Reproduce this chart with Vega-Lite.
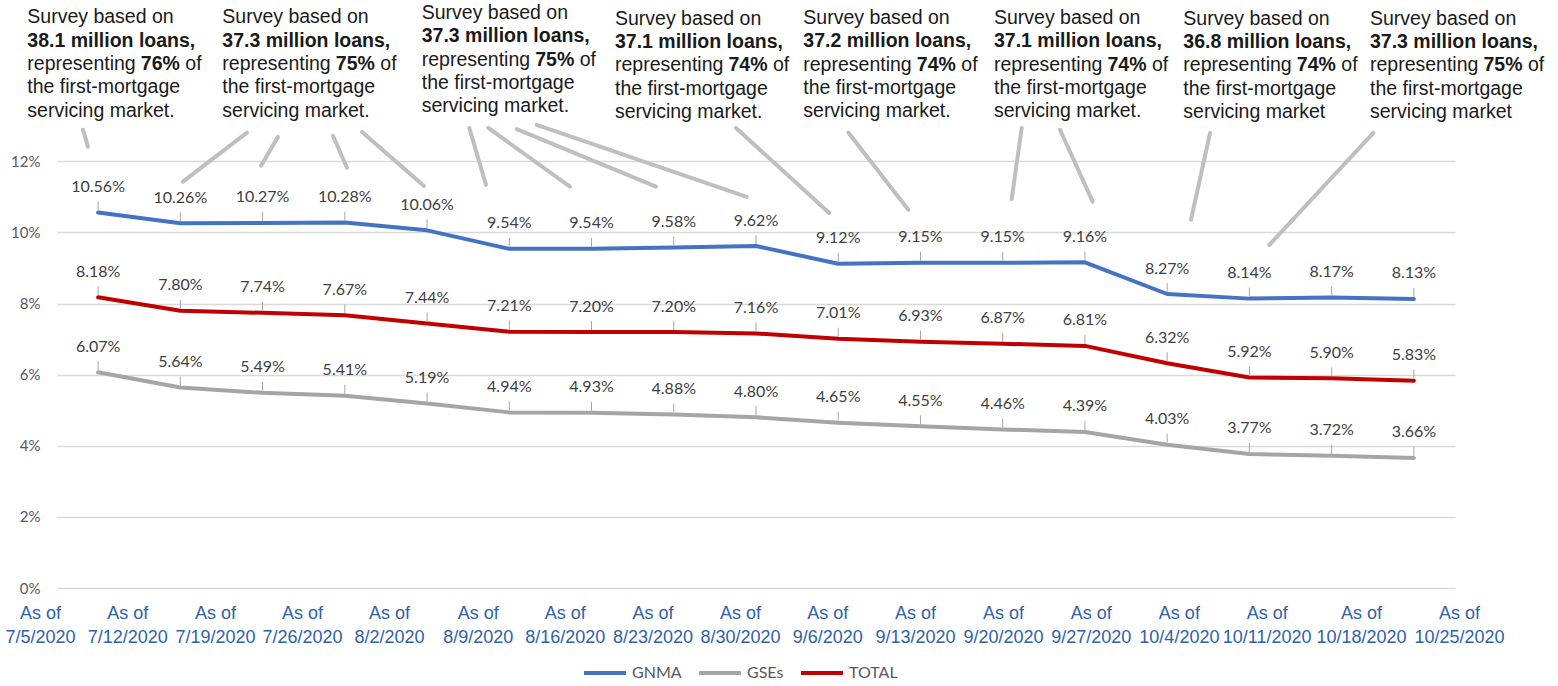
{
  "$schema": "https://vega.github.io/schema/vega-lite/v6.json",
  "width": 1398,
  "height": 588,
  "autosize": {"type": "none"},
  "padding": {"left": 57, "top": 0, "right": 103, "bottom": 98},
  "config": {"view": {"stroke": null}, "font": "Lato"},
  "datasets": {
    "rates": [
      {"k": 0, "date": "7/5/2020", "series": "GNMA", "v": 0.1056},
      {"k": 1, "date": "7/12/2020", "series": "GNMA", "v": 0.1026},
      {"k": 2, "date": "7/19/2020", "series": "GNMA", "v": 0.1027},
      {"k": 3, "date": "7/26/2020", "series": "GNMA", "v": 0.1028},
      {"k": 4, "date": "8/2/2020", "series": "GNMA", "v": 0.1006},
      {"k": 5, "date": "8/9/2020", "series": "GNMA", "v": 0.0954},
      {"k": 6, "date": "8/16/2020", "series": "GNMA", "v": 0.0954},
      {"k": 7, "date": "8/23/2020", "series": "GNMA", "v": 0.0958},
      {"k": 8, "date": "8/30/2020", "series": "GNMA", "v": 0.0962},
      {"k": 9, "date": "9/6/2020", "series": "GNMA", "v": 0.0912},
      {"k": 10, "date": "9/13/2020", "series": "GNMA", "v": 0.0915},
      {"k": 11, "date": "9/20/2020", "series": "GNMA", "v": 0.0915},
      {"k": 12, "date": "9/27/2020", "series": "GNMA", "v": 0.0916},
      {"k": 13, "date": "10/4/2020", "series": "GNMA", "v": 0.0827},
      {"k": 14, "date": "10/11/2020", "series": "GNMA", "v": 0.0814},
      {"k": 15, "date": "10/18/2020", "series": "GNMA", "v": 0.0817},
      {"k": 16, "date": "10/25/2020", "series": "GNMA", "v": 0.0813},
      {"k": 0, "date": "7/5/2020", "series": "GSEs", "v": 0.0607},
      {"k": 1, "date": "7/12/2020", "series": "GSEs", "v": 0.0564},
      {"k": 2, "date": "7/19/2020", "series": "GSEs", "v": 0.0549},
      {"k": 3, "date": "7/26/2020", "series": "GSEs", "v": 0.0541},
      {"k": 4, "date": "8/2/2020", "series": "GSEs", "v": 0.0519},
      {"k": 5, "date": "8/9/2020", "series": "GSEs", "v": 0.0494},
      {"k": 6, "date": "8/16/2020", "series": "GSEs", "v": 0.0493},
      {"k": 7, "date": "8/23/2020", "series": "GSEs", "v": 0.0488},
      {"k": 8, "date": "8/30/2020", "series": "GSEs", "v": 0.0480},
      {"k": 9, "date": "9/6/2020", "series": "GSEs", "v": 0.0465},
      {"k": 10, "date": "9/13/2020", "series": "GSEs", "v": 0.0455},
      {"k": 11, "date": "9/20/2020", "series": "GSEs", "v": 0.0446},
      {"k": 12, "date": "9/27/2020", "series": "GSEs", "v": 0.0439},
      {"k": 13, "date": "10/4/2020", "series": "GSEs", "v": 0.0403},
      {"k": 14, "date": "10/11/2020", "series": "GSEs", "v": 0.0377},
      {"k": 15, "date": "10/18/2020", "series": "GSEs", "v": 0.0372},
      {"k": 16, "date": "10/25/2020", "series": "GSEs", "v": 0.0366},
      {"k": 0, "date": "7/5/2020", "series": "TOTAL", "v": 0.0818},
      {"k": 1, "date": "7/12/2020", "series": "TOTAL", "v": 0.0780},
      {"k": 2, "date": "7/19/2020", "series": "TOTAL", "v": 0.0774},
      {"k": 3, "date": "7/26/2020", "series": "TOTAL", "v": 0.0767},
      {"k": 4, "date": "8/2/2020", "series": "TOTAL", "v": 0.0744},
      {"k": 5, "date": "8/9/2020", "series": "TOTAL", "v": 0.0721},
      {"k": 6, "date": "8/16/2020", "series": "TOTAL", "v": 0.0720},
      {"k": 7, "date": "8/23/2020", "series": "TOTAL", "v": 0.0720},
      {"k": 8, "date": "8/30/2020", "series": "TOTAL", "v": 0.0716},
      {"k": 9, "date": "9/6/2020", "series": "TOTAL", "v": 0.0701},
      {"k": 10, "date": "9/13/2020", "series": "TOTAL", "v": 0.0693},
      {"k": 11, "date": "9/20/2020", "series": "TOTAL", "v": 0.0687},
      {"k": 12, "date": "9/27/2020", "series": "TOTAL", "v": 0.0681},
      {"k": 13, "date": "10/4/2020", "series": "TOTAL", "v": 0.0632},
      {"k": 14, "date": "10/11/2020", "series": "TOTAL", "v": 0.0592},
      {"k": 15, "date": "10/18/2020", "series": "TOTAL", "v": 0.0590},
      {"k": 16, "date": "10/25/2020", "series": "TOTAL", "v": 0.0583}
    ],
    "notes": [
      {"nx": -0.861, "ny": 0.1589, "body": "representing\nthe first-mortgage\nservicing market.", "loans": "38.1 million loans,", "pct": "76%"},
      {"nx": 1.510, "ny": 0.1589, "body": "representing\nthe first-mortgage\nservicing market.", "loans": "37.3 million loans,", "pct": "75%"},
      {"nx": 3.935, "ny": 0.1601, "body": "representing\nthe first-mortgage\nservicing market.", "loans": "37.3 million loans,", "pct": "75%"},
      {"nx": 6.285, "ny": 0.1585, "body": "representing\nthe first-mortgage\nservicing market.", "loans": "37.1 million loans,", "pct": "74%"},
      {"nx": 8.575, "ny": 0.1587, "body": "representing\nthe first-mortgage\nservicing market.", "loans": "37.2 million loans,", "pct": "74%"},
      {"nx": 10.894, "ny": 0.1587, "body": "representing\nthe first-mortgage\nservicing market.", "loans": "37.1 million loans,", "pct": "74%"},
      {"nx": 13.196, "ny": 0.1585, "body": "representing\nthe first-mortgage\nservicing market", "loans": "36.8 million loans,", "pct": "74%"},
      {"nx": 15.466, "ny": 0.1585, "body": "representing\nthe first-mortgage\nservicing market", "loans": "37.3 million loans,", "pct": "75%"}
    ],
    "leaders": [
      {"x1": -0.184, "y1": 0.1289, "x2": -0.123, "y2": 0.1241},
      {"x1": 1.810, "y1": 0.1281, "x2": 1.032, "y2": 0.1143},
      {"x1": 2.187, "y1": 0.1269, "x2": 1.981, "y2": 0.1188},
      {"x1": 2.856, "y1": 0.1272, "x2": 3.026, "y2": 0.1182},
      {"x1": 3.209, "y1": 0.1283, "x2": 3.963, "y2": 0.1131},
      {"x1": 4.514, "y1": 0.1294, "x2": 4.717, "y2": 0.1134},
      {"x1": 4.745, "y1": 0.1294, "x2": 5.738, "y2": 0.1129},
      {"x1": 5.090, "y1": 0.1291, "x2": 6.784, "y2": 0.1129},
      {"x1": 5.333, "y1": 0.1303, "x2": 7.887, "y2": 0.1100},
      {"x1": 7.757, "y1": 0.1294, "x2": 8.891, "y2": 0.1055},
      {"x1": 9.122, "y1": 0.1281, "x2": 9.852, "y2": 0.1064},
      {"x1": 11.231, "y1": 0.1294, "x2": 11.109, "y2": 0.1094},
      {"x1": 11.697, "y1": 0.1289, "x2": 12.094, "y2": 0.1087},
      {"x1": 13.521, "y1": 0.1280, "x2": 13.290, "y2": 0.1036},
      {"x1": 15.507, "y1": 0.1280, "x2": 14.242, "y2": 0.0965}
    ]
  },
  "layer": [
    {
      "data": {"name": "rates"},
      "mark": {"type": "line", "strokeWidth": 4, "strokeJoin": "round", "strokeCap": "round"},
      "encoding": {
        "x": {"field": "k", "type": "quantitative", "scale": {"domain": [-0.5, 16.5], "nice": false, "zero": false},
          "axis": {"values": [0, 1, 2, 3, 4, 5, 6, 7, 8, 9, 10, 11, 12, 13, 14, 15, 16],
            "labelExpr": "['As of', ['7/5/2020','7/12/2020','7/19/2020','7/26/2020','8/2/2020','8/9/2020','8/16/2020','8/23/2020','8/30/2020','9/6/2020','9/13/2020','9/20/2020','9/27/2020','10/4/2020','10/11/2020','10/18/2020','10/25/2020'][datum.value]]",
            "labelOffset": {"condition": [
              {"test": "datum.value === 0", "value": -58.1},
              {"test": "datum.value === 1", "value": -53.1},
              {"test": "datum.value === 2", "value": -47.6},
              {"test": "datum.value === 3", "value": -42.8},
              {"test": "datum.value === 4", "value": -38.0},
              {"test": "datum.value === 5", "value": -31.6},
              {"test": "datum.value === 6", "value": -26.8},
              {"test": "datum.value === 7", "value": -21.2},
              {"test": "datum.value === 8", "value": -16.0},
              {"test": "datum.value === 9", "value": -10.9},
              {"test": "datum.value === 10", "value": -5.5},
              {"test": "datum.value === 11", "value": 0.3},
              {"test": "datum.value === 12", "value": 5.8},
              {"test": "datum.value === 13", "value": 11.7},
              {"test": "datum.value === 14", "value": 17.3},
              {"test": "datum.value === 15", "value": 29.3}
            ], "value": 45.1},
            "labelFont": "Liberation Sans", "labelFontSize": 18, "labelColor": "#2F62A8", "labelLineHeight": 24.5,
            "ticks": false, "domain": false, "grid": false, "labelPadding": 16, "labelOverlap": false, "labelBound": false, "labelFlush": false,
            "labelAlign": "center", "labelBaseline": "top", "title": null}},
        "y": {"field": "v", "type": "quantitative", "scale": {"domain": [0, 0.1654], "nice": false, "zero": false},
          "axis": {"values": [0, 0.02, 0.04, 0.06, 0.08, 0.1, 0.12], "format": ".0%", "title": null, "ticks": false, "domain": false,
            "grid": true, "gridColor": "#D9D9D9", "gridWidth": 1.3, "labelPadding": 17, "labelFont": "Lato", "labelFontSize": 15, "labelColor": "#595959"}},
        "color": {"field": "series", "type": "nominal",
          "scale": {"domain": ["GNMA", "GSEs", "TOTAL"], "range": ["#4472C4", "#A5A5A5", "#C00000"]},
          "legend": {"orient": "none", "legendX": 525, "legendY": 650, "direction": "horizontal", "title": null,
            "symbolType": "stroke", "symbolStrokeWidth": 4, "symbolSize": 1764, "labelFont": "Lato", "labelFontSize": 16,
            "labelColor": "#595959", "columnPadding": 9, "labelOffset": 4, "padding": 0}}
      }
    },
    {
      "data": {"name": "rates"},
      "mark": {"type": "rule", "color": "#A6A6A6", "strokeWidth": 1, "yOffset": -2, "y2Offset": -11},
      "encoding": {
        "x": {"field": "k", "type": "quantitative"},
        "y": {"field": "v", "type": "quantitative"},
        "y2": {"field": "v"}
      }
    },
    {
      "data": {"name": "rates"},
      "mark": {"type": "text", "font": "Lato", "fontSize": 16, "color": "#404040", "dy": -20.5, "baseline": "alphabetic", "align": "center"},
      "encoding": {
        "x": {"field": "k", "type": "quantitative"},
        "y": {"field": "v", "type": "quantitative"},
        "text": {"field": "v", "type": "quantitative", "format": ".2%"}
      }
    },
    {
      "data": {"name": "leaders"},
      "mark": {"type": "rule", "color": "#BFBFBF", "strokeWidth": 4, "strokeCap": "round"},
      "encoding": {
        "x": {"field": "x1", "type": "quantitative"},
        "x2": {"field": "x2"},
        "y": {"field": "y1", "type": "quantitative"},
        "y2": {"field": "y2"}
      }
    },
    {
      "data": {"name": "notes"},
      "mark": {"type": "text", "font": "Liberation Sans", "fontSize": 19.5, "color": "#1A1A1A", "align": "left", "baseline": "alphabetic"},
      "encoding": {
        "x": {"field": "nx", "type": "quantitative"},
        "y": {"field": "ny", "type": "quantitative"},
        "text": {"value": "Survey based on"}
      }
    },
    {
      "data": {"name": "notes"},
      "mark": {"type": "text", "font": "Liberation Sans", "fontSize": 19.5, "color": "#1A1A1A", "align": "left", "baseline": "alphabetic", "lineBreak": "\n", "lineHeight": 23.4, "dy": 46.8},
      "encoding": {
        "x": {"field": "nx", "type": "quantitative"},
        "y": {"field": "ny", "type": "quantitative"},
        "text": {"field": "body"}
      }
    },
    {
      "data": {"name": "notes"},
      "mark": {"type": "text", "font": "Liberation Sans", "fontSize": 19.5, "fontWeight": "bold", "color": "#1A1A1A", "align": "left", "baseline": "alphabetic", "dy": 23.4},
      "encoding": {
        "x": {"field": "nx", "type": "quantitative"},
        "y": {"field": "ny", "type": "quantitative"},
        "text": {"field": "loans"}
      }
    },
    {
      "data": {"name": "notes"},
      "mark": {"type": "text", "font": "Liberation Sans", "fontSize": 19.5, "fontWeight": "bold", "color": "#1A1A1A", "align": "left", "baseline": "alphabetic", "dy": 46.8, "dx": 113.5},
      "encoding": {
        "x": {"field": "nx", "type": "quantitative"},
        "y": {"field": "ny", "type": "quantitative"},
        "text": {"field": "pct"}
      }
    },
    {
      "data": {"name": "notes"},
      "mark": {"type": "text", "font": "Liberation Sans", "fontSize": 19.5, "color": "#1A1A1A", "align": "left", "baseline": "alphabetic", "dy": 46.8, "dx": 158},
      "encoding": {
        "x": {"field": "nx", "type": "quantitative"},
        "y": {"field": "ny", "type": "quantitative"},
        "text": {"value": "of"}
      }
    }
  ]
}
